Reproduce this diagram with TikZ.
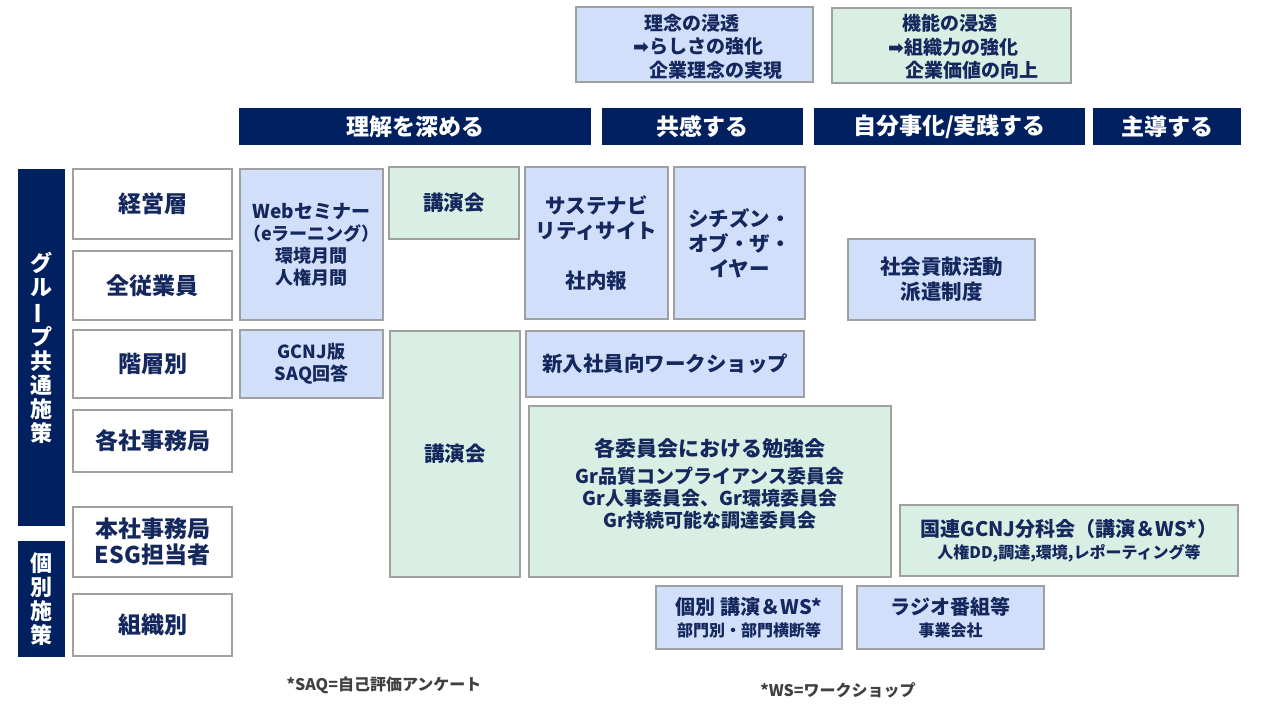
\documentclass[tikz,border=0pt]{standalone}
\usepackage{fontspec}
\usepackage{graphicx}
\setmainfont{Noto Sans CJK JP}
\newfontfamily\arrowfont{DejaVu Sans}
\definecolor{navy}{HTML}{002060}
\definecolor{textc}{HTML}{14285E}
\definecolor{bfill}{HTML}{D2DFFA}
\definecolor{gfill}{HTML}{D9EFE3}
\definecolor{bord}{HTML}{A0A0A0}
\definecolor{ftext}{HTML}{404040}
\begin{document}
\begin{tikzpicture}[x=1pt,y=-1pt,
  wh/.style 2 args={minimum width=#1pt, minimum height=#2pt},
  box/.style={draw=bord, line width=2pt, inner sep=0pt, text=textc, align=center,
    font=\bfseries\fontsize{18}{22}\selectfont},
  bluebox/.style={box, fill=bfill},
  greenbox/.style={box, fill=gfill},
  rowbox/.style={box, fill=white, font=\bfseries\fontsize{23}{26}\selectfont},
  bar/.style={fill=navy, draw=none, inner sep=0pt, text=white, align=center,
    font=\bfseries\fontsize{23}{26}\selectfont},
  vbar/.style={bar, font=\bfseries\fontsize{22}{24}\selectfont},
  big/.style={font=\bfseries\fontsize{20.5}{25}\selectfont},
  plain/.style={inner sep=0pt, text=textc, align=left, font=\bfseries\fontsize{19}{23.5}\selectfont},
  note/.style={inner sep=0pt, text=ftext, font=\bfseries\fontsize{16}{18}\selectfont}]
\useasboundingbox (0,0) rectangle (1280,720);

% top boxes
\node[bluebox, wh={237}{75}] (rinen) at (694.5,44.5) {};
\node[plain, anchor=west] (rinentxt) at (633,46.5)
  {\hspace*{11pt}理念の浸透\\{\arrowfont ➡}らしさの強化\\\hspace*{16pt}企業理念の実現};
\node[greenbox, wh={239}{75}] (kinou) at (951.5,45.5) {};
\node[plain, anchor=west] (kinoutxt) at (888,47)
  {\hspace*{14pt}機能の浸透\\{\arrowfont ➡}組織力の強化\\\hspace*{17pt}企業価値の向上};

% header bars
\node[bar, wh={352}{37}] (h1) at (415,126.5) {理解を深める};
\node[bar, wh={201}{37}] (h2) at (702.5,126.5) {共感する};
\node[bar, wh={271}{37}] (h3) at (949.5,126.5) {自分事化/実践する};
\node[bar, wh={148}{37}] (h4) at (1167,126.5) {主導する};

% vertical bars
\node[vbar, wh={47}{357}] (vb1) at (41.5,347.5)
  {グ\\ル\\\rotatebox[origin=c]{90}{ー}\\プ\\共\\通\\施\\策};
\node[vbar, wh={47}{116}] (vb2) at (41.5,599) {個\\別\\施\\策};

% row labels
\node[rowbox, wh={159}{70}] (r1) at (152.5,204) {経営層};
\node[rowbox, wh={159}{69}] (r2) at (152.5,285.5) {全従業員};
\node[rowbox, wh={159}{68}] (r3) at (152.5,364) {階層別};
\node[rowbox, wh={159}{62}] (r4) at (152.5,441) {各社事務局};
\node[rowbox, wh={159}{70}] (r5) at (152.5,542) {本社事務局\\ESG担当者};
\node[rowbox, wh={159}{62}] (r6) at (152.5,625) {組織別};

% content boxes
\node[bluebox, wh={143}{151}] (web) at (311.5,244.5)
  {{\fontsize{19}{22}\selectfont Webセミナー}\\（eラーニング）\\環境月間\\人権月間};
\node[bluebox, wh={143}{68}] (saq) at (311.5,364) {GCNJ版\\SAQ回答};
\node[greenbox, big, wh={130}{72}] (kouen1) at (454,203) {講演会};
\node[greenbox, big, wh={130}{246}] (kouen2) at (455,454) {講演会};
\node[bluebox, big, wh={143}{152}] (site) at (596.5,243)
  {サステナビ\\リティサイト\\[25pt]社内報};
\node[bluebox, big, wh={131}{152}] (citizen) at (739.5,243)
  {シチズン・\\オブ・ザ・\\イヤー};
\node[bluebox, big, wh={278}{66}] (shinnyu) at (665,364) {新入社員向ワークショップ};
\node[greenbox, wh={362}{171}] (iinkai) at (710,491.5) {};
\node[inner sep=0pt, text=textc, align=center, font=\bfseries\fontsize{19}{22}\selectfont]
  (iinkaitxt) at (710,484)
  {{\fontsize{21}{22}\selectfont 各委員会における勉強会}\\[5pt]Gr品質コンプライアンス委員会\\Gr人事委員会、Gr環境委員会\\Gr持続可能な調達委員会};
\node[bluebox, big, wh={187}{81}] (shakai) at (941.5,279.5) {社会貢献活動\\派遣制度};
\node[greenbox, wh={338}{71}] (gcnj) at (1069,540.5)
  {{\fontsize{20}{22}\selectfont 国連GCNJ分科会（講演＆WS*）}\\{\fontsize{16}{22}\selectfont 人権DD,調達,環境,レポーティング等}};
\node[bluebox, wh={186}{63}] (kobetsu) at (749,617.5)
  {{\fontsize{20}{23}\selectfont 個別 講演＆WS*}\\{\fontsize{16}{23}\selectfont 部門別・部門横断等}};
\node[bluebox, wh={187}{63}] (radio) at (950.5,617.5)
  {{\fontsize{20}{23}\selectfont ラジオ番組等}\\{\fontsize{16}{23}\selectfont 事業会社}};

% footnotes
\node[note] (fn1) at (384,685) {*SAQ=自己評価アンケート};
\node[note] (fn2) at (838,690) {*WS=ワークショップ};
\end{tikzpicture}
\end{document}
